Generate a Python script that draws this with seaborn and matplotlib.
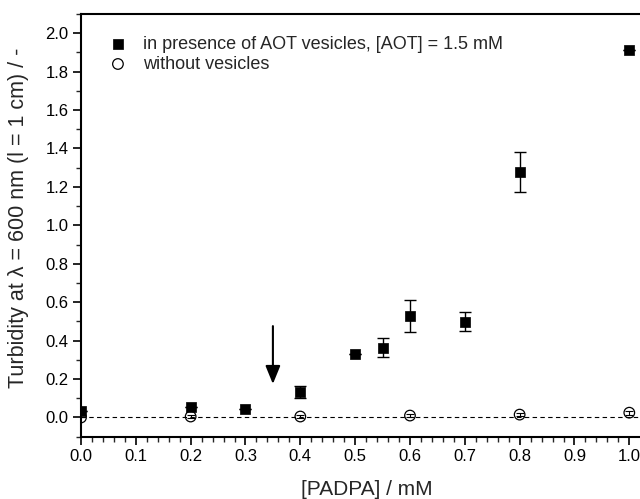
import matplotlib
matplotlib.use("Agg")
import matplotlib.pyplot as plt
import seaborn as sns
import pandas as pd
import numpy as np
from matplotlib.ticker import MultipleLocator

# Data
x_aot = [0.0, 0.2, 0.3, 0.4, 0.5, 0.55, 0.6, 0.7, 0.8, 1.0]
y_aot = [0.035, 0.055, 0.045, 0.133, 0.333, 0.363, 0.529, 0.498, 1.276, 1.913]
e_aot = [0.0, 0.0, 0.0, 0.03, 0.0, 0.05, 0.085, 0.049, 0.104, 0.0]

x_none = [0.0, 0.2, 0.4, 0.6, 0.8, 1.0]
y_none = [0.0, 0.005, 0.005, 0.01, 0.015, 0.025]
e_none = [0.0, 0.01, 0.01, 0.01, 0.008, 0.01]

label_aot = "in presence of AOT vesicles, [AOT] = 1.5 mM"
label_none = "without vesicles"

xticks = [0.0, 0.1, 0.2, 0.3, 0.4, 0.5, 0.6, 0.7, 0.8, 0.9, 1.0]
yticks = [0.0, 0.2, 0.4, 0.6, 0.8, 1.0, 1.2, 1.4, 1.6, 1.8, 2.0]

sns.set_style("ticks")
plt.rcParams['font.family'] = ['Liberation Sans', 'DejaVu Sans']

fig = plt.figure(figsize=(6.4, 4.99), dpi=100)
ax = fig.add_axes([81/640, (499-436.7)/499, 559/640, (436.7-14)/499])

ax.axhline(0, color='black', lw=0.8, ls=(0, (4, 3)), zorder=1)

ax.errorbar(x_aot, y_aot, yerr=e_aot, fmt='none', ecolor='black', elinewidth=1.0,
            capsize=4, capthick=1.0, zorder=2)
ax.errorbar(x_none, y_none, yerr=e_none, fmt='none', ecolor='black', elinewidth=0.8,
            capsize=3, capthick=0.8, zorder=2)

df_aot = pd.DataFrame({'x': x_aot, 'y': y_aot})
df_none = pd.DataFrame({'x': x_none, 'y': y_none})
sns.scatterplot(data=df_aot, x='x', y='y', ax=ax, marker='s', s=52, color='black',
                edgecolor='black', linewidth=0.5, label=label_aot, zorder=3)
sns.scatterplot(data=df_none, x='x', y='y', ax=ax, marker='o', s=58, facecolor='none',
                edgecolor='black', linewidth=0.9, label=label_none, zorder=4)

ax.annotate('', xy=(0.35, 0.16), xytext=(0.35, 0.49),
            arrowprops=dict(arrowstyle='-|>,head_length=1.1,head_width=0.45',
                            color='black', lw=1.5))

ax.set_xlim(0, 559/548.3)
ax.set_ylim(-0.1, 2.1)
ax.set_xticks(xticks)
ax.set_xticklabels([f"{v:.1f}" for v in xticks])
ax.set_yticks(yticks)
ax.set_yticklabels([f"{v:.1f}" for v in yticks])
ax.xaxis.set_minor_locator(MultipleLocator(0.02))
ax.yaxis.set_minor_locator(MultipleLocator(0.1))

ax.tick_params(which='major', direction='out', length=6, width=1.2, labelsize=12, pad=3, colors='black')
ax.tick_params(which='minor', direction='out', length=3.5, width=1.0)

for s in ['left', 'bottom', 'top']:
    ax.spines[s].set_linewidth(1.5)
    ax.spines[s].set_color('black')
ax.spines['right'].set_visible(False)

ax.set_xlabel('[PADPA] / mM', fontsize=15)
ax.set_ylabel('Turbidity at λ = 600 nm (l = 1 cm) / -', fontsize=15.5)
ax.xaxis.set_label_coords((367 - 81) / 559, (436.7 - 480) / 422.7)
ax.yaxis.set_label_coords((29 - 81) / 559, (436.7 - 218) / 422.7)

leg = ax.legend(loc='upper left', bbox_to_anchor=(0.037, 0.965), frameon=False,
                fontsize=13, handlelength=1.0, handletextpad=0.9,
                labelspacing=0.15, borderaxespad=0)

fig.savefig('out.png', dpi=100)
